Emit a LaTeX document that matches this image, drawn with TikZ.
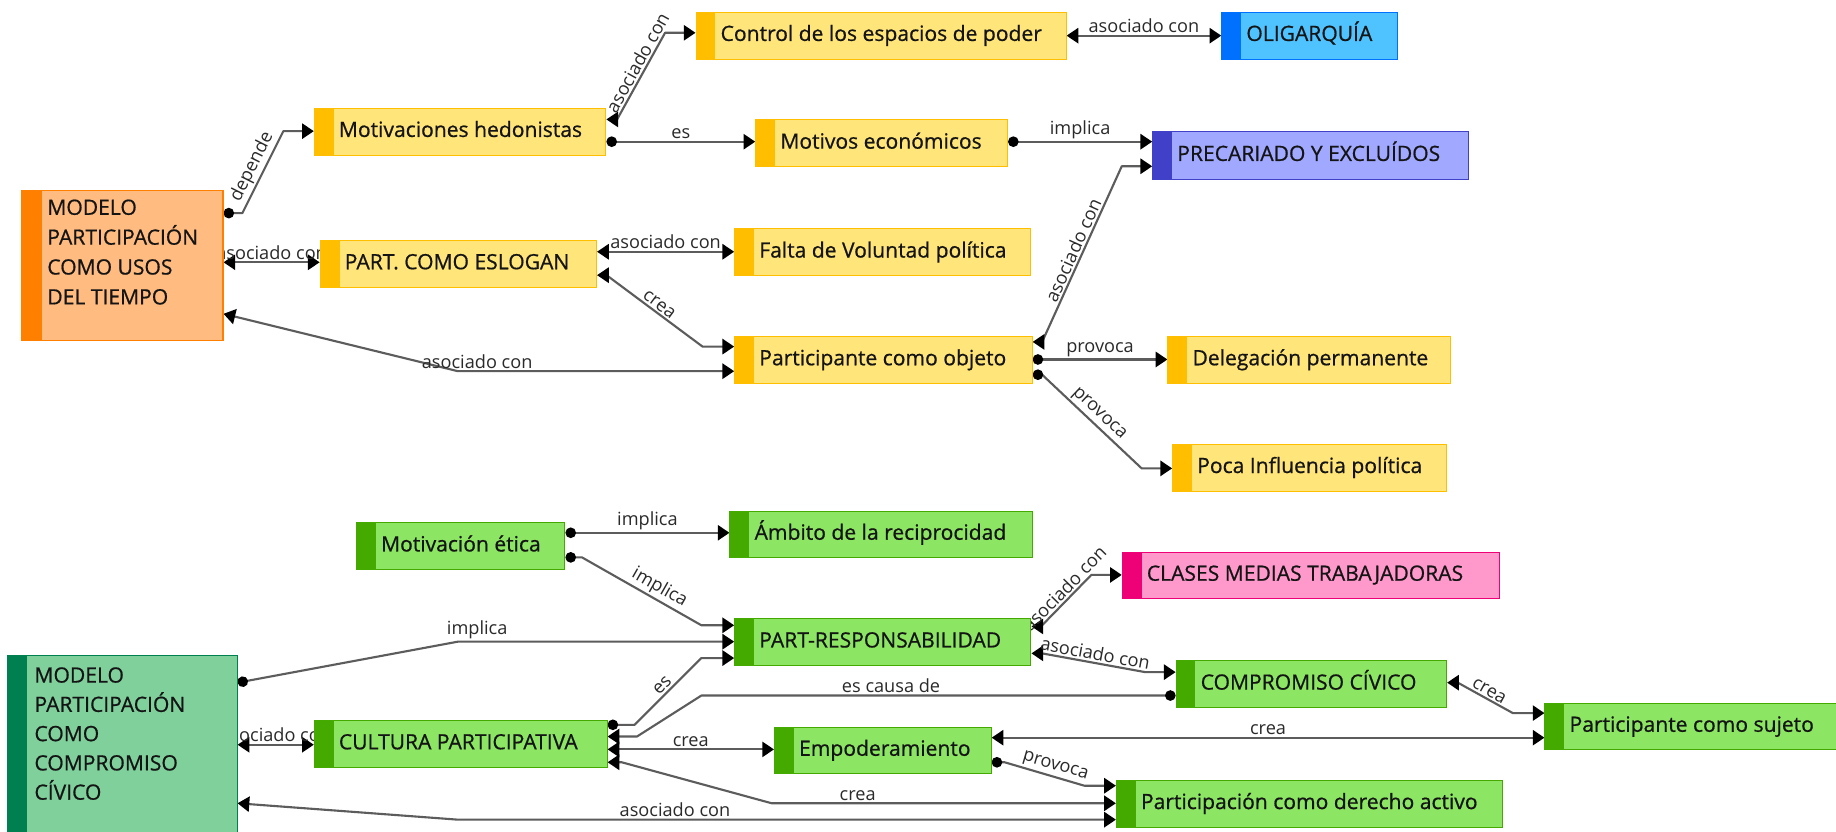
\documentclass[tikz,border=0pt]{standalone}
\usepackage{fontspec}
\setmainfont{Open Sans}
\newfontfamily\cmNodeFam[FakeBold=0.7]{Open Sans}
\usetikzlibrary{arrows.meta,calc}
\pgfdeclarelayer{bg}
\pgfsetlayers{bg,main}
\definecolor{ylwF}{HTML}{FFE57A}
\definecolor{ylwB}{HTML}{FFBF00}
\definecolor{grnF}{HTML}{8CE563}
\definecolor{grnB}{HTML}{44AA00}
\definecolor{orgF}{HTML}{FFBB80}
\definecolor{orgB}{HTML}{FF7F00}
\definecolor{bluF}{HTML}{4FC3FF}
\definecolor{bluB}{HTML}{0070FF}
\definecolor{lavF}{HTML}{A0A8FF}
\definecolor{lavB}{HTML}{4040C8}
\definecolor{pnkF}{HTML}{FF99CC}
\definecolor{pnkB}{HTML}{EE0077}
\definecolor{dgrF}{HTML}{80D09C}
\definecolor{dgrB}{HTML}{008050}
\definecolor{lineC}{HTML}{5C5C5C}
\definecolor{txtC}{HTML}{141414}
\definecolor{lblC}{HTML}{2A2A2A}
\newcommand{\cmNodeFont}{\cmNodeFam\fontsize{18}{21}\selectfont}
\newcommand{\cmLblFont}{\fontsize{15.5}{18}\selectfont}
\newcommand{\cmT}[2]{\makebox[#1pt][l]{\hspace*{21pt}#2}}
\tikzset{
  cbox/.style 2 args={draw=#2, fill=#1, line width=0.9pt, anchor=north west,
    inner xsep=0pt, inner ysep=0pt, minimum height=40pt, font=\cmNodeFont,
    text=txtC, text height=13pt, text depth=4pt,
    path picture={\fill[#2] (path picture bounding box.north west) rectangle ([xshift=16.5pt]path picture bounding box.south west);}},
  ybox/.style={cbox={ylwF}{ylwB}},
  gbox/.style={cbox={grnF}{grnB}},
  mbox/.style 2 args={draw=#2, fill=#1, line width=0.9pt, anchor=north west,
    inner sep=0pt, text=txtC, font=\cmNodeFam,
    path picture={\fill[#2] (path picture bounding box.north west) rectangle ([xshift=17pt]path picture bounding box.south west);}},
  conn/.style={draw=lineC, line width=1.8pt, line join=round},
  lnB/.style={conn, {Triangle[length=10pt,width=13pt,color=black]}-{Triangle[length=10pt,width=13pt,color=black]}},
  lnD/.style={conn, {Circle[length=9pt,color=black]}-{Triangle[length=10pt,width=13pt,color=black]}},
  lbl/.style={font=\cmLblFont, text=lblC, inner sep=1.5pt},
}
\begin{document}
\begin{tikzpicture}[x=1pt,y=-1pt]
\useasboundingbox (0,0) rectangle (1568,710);
% ---------- nodes ----------
\node[mbox={orgF}{orgB}] (m1) at (18,162) {\hspace*{22pt}\parbox[b][128pt][t]{150pt}{\fontsize{18}{25.5}\selectfont\rule{0pt}{21pt}MODELO\\PARTICIPACIÓN\\COMO USOS\\DEL TIEMPO}};
\node[ybox] (mh) at (268,92) {\cmT{249}{Motivaciones hedonistas}};
\node[ybox] (ctrl) at (594,10) {\cmT{316}{Control de los espacios de poder}};
\node[cbox={bluF}{bluB}] (olig) at (1043,10) {\cmT{150}{OLIGARQUÍA}};
\node[ybox] (mot) at (645,102) {\cmT{215}{Motivos económicos}};
\node[cbox={lavF}{lavB}, minimum height=41pt] (prec) at (984,112) {\cmT{270}{PRECARIADO Y EXCLUÍDOS}};
\node[ybox] (esl) at (273,205) {\cmT{236}{PART. COMO ESLOGAN}};
\node[ybox] (falta) at (627,195) {\cmT{253}{Falta de Voluntad política}};
\node[ybox] (pobj) at (627,287) {\cmT{254}{Participante como objeto}};
\node[ybox] (dele) at (997,287) {\cmT{241}{Delegación permanente}};
\node[ybox] (poca) at (1001,379) {\cmT{234}{Poca Influencia política}};
\node[gbox] (meti) at (304,446) {\cmT{178}{Motivación ética}};
\node[gbox] (amb) at (623,436) {\cmT{258}{Ámbito de la reciprocidad}};
\node[cbox={pnkF}{pnkB}] (clas) at (958,471) {\cmT{322}{CLASES MEDIAS TRABAJADORAS}};
\node[gbox] (resp) at (627,528) {\cmT{253}{PART-RESPONSABILIDAD}};
\node[mbox={dgrF}{dgrB}] (m2) at (6,559) {\hspace*{23pt}\parbox[b][160pt][t]{173pt}{\fontsize{18}{25}\selectfont\rule{0pt}{23.5pt}MODELO\\PARTICIPACIÓN\\COMO\\COMPROMISO\\CÍVICO}};
\node[gbox] (comp) at (1004,564) {\cmT{231}{COMPROMISO CÍVICO}};
\node[gbox] (cult) at (268,615) {\cmT{250}{CULTURA PARTICIPATIVA}};
\node[gbox] (suj) at (1319,600) {\cmT{260}{Participante como sujeto}};
\node[gbox, minimum height=39pt] (emp) at (661,621) {\cmT{185}{Empoderamiento}};
\node[gbox] (pder) at (953,666) {\cmT{330}{Participación como derecho activo}};
% ---------- connectors ----------
\begin{pgfonlayer}{bg}
\fill[white] (0,0) rectangle (1568,710);
\draw[lnD] ($(m1.north east)+(0,20)$) -- (207,182) -- node[sloped,above,lbl]{depende} (242,112) -- ($(mh.north west)+(0,20)$);
\draw[lnB] ($(m1.north east)+(0,62)$) -- node[above,lbl]{asociado con} ($(esl.north west)+(0,19)$);
\draw[lnB] ($(m1.north east)+(0,106)$) -- (391,317) -- node[pos=0.07,above,lbl]{asociado con} ($(pobj.north west)+(0,30)$);
\draw[lnB] ($(mh.north east)+(0,10)$) -- (527,102) -- node[pos=0.6,sloped,above,lbl]{asociado con} (568,28) -- ($(ctrl.north west)+(0,18)$);
\draw[lnD] ($(mh.north east)+(0,29)$) -- node[above,lbl]{es} ($(mot.north west)+(0,19)$);
\draw[lnB] (ctrl.east) -- node[above,lbl]{asociado con} (olig.west);
\draw[lnD] ($(mot.north east)+(0,19)$) -- node[above,lbl]{implica} ($(prec.north west)+(0,9)$);
\draw[lnB] ($(pobj.north east)+(0,5)$) -- (890,292) -- node[sloped,above,lbl]{asociado con} (958,142) -- ($(prec.north west)+(0,30)$);
\draw[lnB] ($(esl.north east)+(0,10)$) -- node[above,lbl]{asociado con} ($(falta.north west)+(0,20)$);
\draw[lnB] ($(esl.north east)+(0,30)$) -- (518,235) -- node[sloped,above,lbl]{crea} (600,296) -- ($(pobj.north west)+(0,9)$);
\draw[lnD] ($(pobj.north east)+(0,20)$) -- node[above,lbl]{provoca} ($(dele.north west)+(0,20)$);
\draw[lnD] ($(pobj.north east)+(0,33)$) -- (890,320) -- node[sloped,above,lbl]{provoca} (975,400) -- ($(poca.north west)+(0,21)$);
\draw[lnD] ($(meti.north east)+(0,9)$) -- node[above,lbl]{implica} ($(amb.north west)+(0,19)$);
\draw[lnD] ($(meti.north east)+(0,30)$) -- (497,476) -- node[pos=0.6,sloped,above,lbl]{implica} (599,534) -- ($(resp.north west)+(0,6)$);
\draw[lnD] ($(m2.north east)+(0,24)$) -- (391,548) -- node[pos=0.07,above,lbl]{implica} ($(resp.north west)+(0,20)$);
\draw[lnB] ($(resp.north east)+(0,7)$) -- (889,535) -- node[pos=0.6,sloped,above,lbl]{asociado con} (932,491) -- ($(clas.north west)+(0,20)$);
\draw[lnB] ($(resp.north east)+(0,30)$) -- (890,558) -- node[sloped,above,lbl]{asociado con} (978,574) -- ($(comp.north west)+(0,10)$);
\draw[lnD] ($(cult.north east)+(0,4)$) -- (542,619) -- node[sloped,above,lbl]{es} (599,562) -- ($(resp.north west)+(0,34)$);
\draw[lnD] ($(comp.north west)+(0,30)$) -- node[pos=0.6,above,lbl]{es causa de} (599,594) -- (544,629) -- ($(cult.north east)+(0,14)$);
\draw[lnB] ($(cult.north east)+(0,25)$) -- node[above,lbl]{crea} ($(emp.north west)+(0,19)$);
\draw[lnB] ($(cult.north east)+(0,36)$) -- (531,651) -- (659,686) -- node[pos=0.25,above,lbl]{crea} ($(pder.north west)+(0,20)$);
\draw[lnB] ($(m2.north east)+(0,127)$) -- (391,700) -- node[pos=0.33,above,lbl]{asociado con} ($(pder.north west)+(0,34)$);
\draw[lnD] ($(emp.north east)+(0,30)$) -- (858,651) -- node[pos=0.6,sloped,above,lbl]{provoca} (926,671) -- ($(pder.north west)+(0,5)$);
\draw[lnB] ($(emp.north east)+(0,9)$) -- node[above,lbl]{crea} ($(suj.north west)+(0,30)$);
\draw[lnB] ($(comp.north east)+(0,19)$) -- (1245,583) -- node[sloped,above,lbl]{crea} (1292,609) -- ($(suj.north west)+(0,9)$);
\draw[lnB] ($(m2.north east)+(0,77)$) -- node[above,lbl]{asociado con} ($(cult.north west)+(0,21)$);
\end{pgfonlayer}
\end{tikzpicture}
\end{document}
